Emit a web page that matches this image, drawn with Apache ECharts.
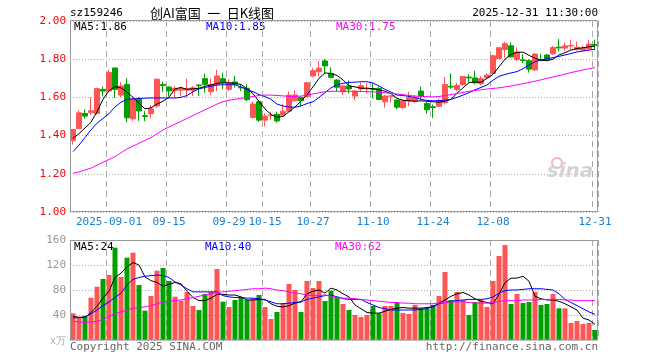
<!DOCTYPE html>
<html><head><meta charset="utf-8">
<script src="https://cdn.jsdelivr.net/npm/echarts@6/dist/echarts.min.js"></script>
<style>html,body{margin:0;padding:0;background:#fff}#c{width:660px;height:360px}</style>
</head><body><div id="c"></div>
<script>
// ---- data ----
const dates = ['08-22','08-25','08-26','08-27','08-28','08-29',
 '09-01','09-02','09-03','09-04','09-05','09-08','09-09','09-10','09-11','09-12',
 '09-15','09-16','09-17','09-18','09-19','09-22','09-23','09-24','09-25','09-26','09-29','09-30',
 '10-09','10-10','10-13','10-14','10-15','10-16','10-17','10-20','10-21','10-22','10-23','10-24',
 '10-27','10-28','10-29','10-30','10-31',
 '11-03','11-04','11-05','11-06','11-07','11-10','11-11','11-12','11-13','11-14',
 '11-17','11-18','11-19','11-20','11-21','11-24','11-25','11-26','11-27','11-28',
 '12-01','12-02','12-03','12-04','12-05','12-08','12-09','12-10','12-11','12-12',
 '12-15','12-16','12-17','12-18','12-19','12-22','12-23','12-24','12-25','12-26',
 '12-29','12-30','12-31'];
const tickLabels = {6:'2025-09-01',16:'09-15',26:'09-29',32:'10-15',40:'10-27',50:'11-10',60:'11-24',70:'12-08',87:'12-31'};
const openP  = [1.374,1.437,1.516,1.520,1.516,1.642,1.633,1.754,1.612,1.668,1.488,1.590,1.504,1.515,1.555,1.668,1.654,1.636,1.638,1.638,1.638,1.665,1.698,1.630,1.668,1.698,1.642,1.681,1.653,1.648,1.495,1.577,1.481,1.505,1.512,1.507,1.528,1.582,1.600,1.604,1.712,1.735,1.791,1.726,1.691,1.630,1.660,1.607,1.644,1.645,1.647,1.647,1.577,1.606,1.586,1.547,1.582,1.581,1.633,1.568,1.551,1.554,1.572,1.658,1.642,1.668,1.706,1.702,1.672,1.704,1.726,1.804,1.851,1.870,1.798,1.796,1.792,1.744,1.798,1.822,1.828,1.863,1.858,1.869,1.851,1.848,1.855,1.877];
const closeP = [1.432,1.519,1.502,1.530,1.646,1.633,1.730,1.642,1.660,1.493,1.592,1.529,1.500,1.540,1.695,1.662,1.634,1.647,1.647,1.646,1.650,1.661,1.668,1.668,1.712,1.677,1.677,1.668,1.650,1.588,1.565,1.481,1.502,1.508,1.477,1.528,1.612,1.612,1.582,1.677,1.740,1.753,1.765,1.705,1.653,1.660,1.644,1.633,1.661,1.648,1.642,1.589,1.607,1.608,1.549,1.582,1.598,1.598,1.607,1.535,1.547,1.581,1.668,1.654,1.663,1.709,1.702,1.677,1.698,1.716,1.818,1.860,1.881,1.812,1.837,1.793,1.748,1.827,1.795,1.796,1.861,1.859,1.870,1.872,1.862,1.857,1.879,1.873];
const lowP   = [1.353,1.435,1.488,1.508,1.511,1.605,1.628,1.598,1.600,1.470,1.476,1.477,1.475,1.490,1.545,1.628,1.605,1.598,1.605,1.598,1.607,1.607,1.625,1.611,1.633,1.642,1.633,1.651,1.633,1.581,1.489,1.472,1.449,1.481,1.467,1.502,1.525,1.577,1.554,1.600,1.709,1.709,1.723,1.700,1.630,1.612,1.621,1.586,1.630,1.621,1.595,1.586,1.547,1.572,1.537,1.540,1.554,1.572,1.588,1.514,1.493,1.551,1.563,1.646,1.633,1.660,1.681,1.668,1.663,1.695,1.721,1.800,1.809,1.809,1.791,1.780,1.730,1.739,1.790,1.793,1.823,1.842,1.844,1.849,1.844,1.844,1.844,1.853];
const highP  = [1.435,1.533,1.537,1.600,1.651,1.656,1.745,1.756,1.680,1.700,1.602,1.602,1.528,1.560,1.698,1.682,1.658,1.660,1.656,1.698,1.660,1.668,1.725,1.698,1.745,1.730,1.695,1.712,1.668,1.668,1.577,1.586,1.516,1.525,1.525,1.565,1.630,1.639,1.604,1.682,1.753,1.791,1.800,1.758,1.695,1.665,1.688,1.639,1.677,1.674,1.674,1.656,1.612,1.612,1.589,1.586,1.630,1.611,1.656,1.577,1.563,1.593,1.707,1.726,1.677,1.712,1.721,1.739,1.712,1.726,1.823,1.863,1.891,1.888,1.861,1.825,1.800,1.832,1.828,1.828,1.870,1.905,1.886,1.902,1.893,1.870,1.902,1.902];
const ma5  = [1.386,1.41,1.44,1.47,1.525,1.59,1.635,1.656,1.650,1.628,1.60,1.57,1.54,1.545,1.565,1.58,1.60,1.645,1.652,1.642,1.645,1.648,1.658,1.665,1.674,1.676,1.676,1.674,1.668,1.645,1.62,1.578,1.54,1.51,1.496,1.50,1.525,1.55,1.58,1.615,1.655,1.70,1.728,1.725,1.715,1.692,1.66,1.655,1.648,1.648,1.645,1.64,1.632,1.62,1.595,1.585,1.582,1.58,1.582,1.58,1.577,1.575,1.58,1.59,1.622,1.65,1.678,1.68,1.679,1.70,1.72,1.76,1.80,1.825,1.836,1.837,1.82,1.805,1.795,1.792,1.80,1.822,1.834,1.848,1.856,1.86,1.865,1.869];
const ma10 = [1.316,1.35,1.39,1.43,1.465,1.49,1.515,1.55,1.575,1.59,1.592,1.594,1.596,1.597,1.597,1.597,1.597,1.597,1.60,1.61,1.63,1.645,1.652,1.658,1.665,1.666,1.666,1.666,1.655,1.64,1.63,1.615,1.604,1.59,1.565,1.555,1.55,1.548,1.555,1.568,1.577,1.60,1.625,1.65,1.665,1.674,1.678,1.680,1.682,1.682,1.675,1.66,1.642,1.628,1.612,1.61,1.605,1.60,1.59,1.584,1.582,1.583,1.585,1.59,1.60,1.612,1.625,1.64,1.652,1.665,1.69,1.71,1.72,1.728,1.735,1.75,1.77,1.787,1.795,1.803,1.808,1.815,1.822,1.83,1.838,1.843,1.848,1.852];
const ma30 = [1.203,1.21,1.22,1.23,1.245,1.26,1.275,1.29,1.31,1.33,1.345,1.36,1.375,1.39,1.41,1.43,1.445,1.46,1.475,1.49,1.505,1.52,1.535,1.55,1.565,1.578,1.585,1.59,1.595,1.60,1.605,1.61,1.612,1.612,1.61,1.608,1.605,1.605,1.607,1.612,1.618,1.624,1.63,1.632,1.632,1.632,1.632,1.631,1.631,1.630,1.629,1.627,1.624,1.621,1.618,1.614,1.61,1.607,1.605,1.604,1.603,1.605,1.61,1.615,1.62,1.626,1.632,1.636,1.64,1.644,1.647,1.65,1.655,1.66,1.666,1.672,1.678,1.685,1.692,1.70,1.707,1.714,1.722,1.73,1.737,1.744,1.75,1.756];
const volume = [42.7,37.3,38.7,67.7,85.3,97.6,104,147.7,100.8,131.7,139.7,88,46.9,70.4,110.9,115.2,94.4,69.3,63,76.8,54.4,48,73.6,76.8,113.6,61.3,52.8,64,68.3,64,66.1,72,52.8,33.6,44.8,58.7,89.6,80,44.8,94.4,83.2,94.4,62.4,79,69.3,57.6,48,40,36.8,40,54.4,42.7,54.4,54.4,59.7,43.2,41.6,56,50.7,50.7,56,70.4,108.8,64,76.8,64,40,60.8,64,52.8,94.4,134.4,152,57.6,73.6,59.2,60.8,76.8,56,57.6,73.6,50.7,50.7,27.2,30.4,25.6,27.2,16];
const vma5  = [38,36,36,44,54,67,78,100,107,117,124,120,101,95,92,86,89,92,90,78,68,63,63,67,73,73,72,72,69,64,64,65,65,58,54,53,55,59,61,74,78,80,75,83,80,74,69,56,50,44,43,43,46,49,51,52,51,51,51,52,53,59,64,70,74,76,72,66,62,60,58,73,92,99,99,102,94,70,66,64,64,62,58,53,48,35,32,25];
const vma10 = [35,36,37,42,48,55,61,68,75,88,97,100,102,103,104,103,100,93,88,82,77,77,77,77,77,71,69,68,68,67,67,66,64,61,58,58,59,60,61,65,67,69,71,72,69,66,65,65,65,60,56,52,50,48,48,48,48,48,49,50,54,58,60,62,63,64,65,65,65,66,69,75,79,80,80,81,82,82,82,81,80,74,65,60,55,50,45,41];
const vma30 = [30,29,28,29,30,33,38,42,45,48,51,52,53,55,58,61,62,63,64,66,68,70,72,74,76,77,78,79,80,81,82,82,83,82,80,79,77,75,74,72,71,71,72,70,68,67,67,66,65,64,63,62,61,60,60,59,59,58,58,58,58,59,60,61,61,61,60,59,59,59,60,62,63,63,63,64,64,64,65,65,65,65,64,64,63,63,63,63];
const priceLegend = ['MA5:1.86','MA10:1.85','MA30:1.75'];
const volLegend = ['MA5:24','MA10:40','MA30:62'];

// ---- chart ----
const UP = '#ff5555', DOWN = '#00a000';
const MONO = '"DejaVu Sans Mono","Liberation Mono",monospace';
const chart = echarts.init(document.getElementById('c'), null, {renderer:'canvas'});
const candle = dates.map((d,i)=>[openP[i],closeP[i],lowP[i],highP[i]]);
const volData = volume.map((v,i)=>({value:v, itemStyle:{color: closeP[i]>=openP[i]?UP:DOWN}}));
const showTick = (i)=>tickLabels.hasOwnProperty(i);
const xBase = (gi, withLabel)=>({
  type:'category', gridIndex:gi, data:dates, boundaryGap:true,
  axisLine:{show:false}, axisTick:{show:false},
  axisLabel:{show:withLabel, interval:(i)=>showTick(i), formatter:(v,i)=>tickLabels[i]||'',
    color:'#1a80d0', fontFamily:MONO, fontSize:11, margin:5},
  splitLine:{show:true, interval:(i)=>showTick(i), lineStyle:{color:'#aaaaaa', type:[6,4], width:1}}
});
const lineS = (name, data, color, xi, yi)=>({type:'line', name, data, xAxisIndex:xi, yAxisIndex:yi,
  showSymbol:false, symbol:'none', silent:true, lineStyle:{color, width:1}, z:5});
const txt = (x,y,t,fill,opt)=>Object.assign({type:'text', x, y, silent:true,
  style:Object.assign({text:t, fill, font:'11px '+MONO, textVerticalAlign:'middle'}, opt||{})});

chart.setOption({
  animation:false,
  backgroundColor:'#fff',
  grid:[{left:70, top:21, width:528, height:191},{left:70, top:240, width:528, height:100}],
  xAxis:[xBase(0,true), xBase(1,false)],
  yAxis:[
    {type:'value', gridIndex:0, min:1, max:2, interval:0.2,
     axisLine:{show:false}, axisTick:{show:false},
     axisLabel:{color:'#ff0000', fontFamily:MONO, fontSize:11, margin:4, formatter:(v)=>v.toFixed(2)},
     splitLine:{show:true, lineStyle:{color:'#aaaaaa', type:[1,2]}}},
    {type:'value', gridIndex:1, min:0, max:160, interval:40,
     axisLine:{show:false}, axisTick:{show:false},
     axisLabel:{color:'#999999', fontFamily:MONO, fontSize:11, margin:4, formatter:(v)=>v===0?'':String(v)},
     splitLine:{show:true, lineStyle:{color:'#aaaaaa', type:[1,2]}}}
  ],
  series:[
    {type:'candlestick', data:candle, xAxisIndex:0, yAxisIndex:0, barWidth:5,
     itemStyle:{color:UP, color0:DOWN, borderColor:UP, borderColor0:DOWN, borderWidth:1}},
    lineS('MA5', ma5, '#000000', 0, 0),
    lineS('MA10', ma10, '#0000ff', 0, 0),
    lineS('MA30', ma30, '#ff00ff', 0, 0),
    {type:'bar', data:volData, xAxisIndex:1, yAxisIndex:1, barWidth:5, silent:true},
    lineS('VMA5', vma5, '#000000', 1, 1),
    lineS('VMA10', vma10, '#0000ff', 1, 1),
    lineS('VMA30', vma30, '#ff00ff', 1, 1)
  ],
  graphic:[
    {type:'rect', silent:true, z:100, shape:{x:70.5,y:20.5,width:527,height:191}, style:{fill:null, stroke:'#999999', lineWidth:1}},
    {type:'rect', silent:true, z:100, shape:{x:70.5,y:240.5,width:527,height:99.5}, style:{fill:null, stroke:'#999999', lineWidth:1}},
    txt(70,13,'sz159246','#000'),
    {type:'text', x:150, y:13, silent:true, style:{text:'创AI富国\u2002一\u2002日K线图', fill:'#000', font:'13px "Noto Sans CJK SC"', textVerticalAlign:'middle'}},
    txt(598,13,'2025-12-31 11:30:00','#000',{textAlign:'right'}),
    txt(74,27,priceLegend[0],'#000000'),
    txt(206,27,priceLegend[1],'#0000ff'),
    txt(336,27,priceLegend[2],'#ff00ff'),
    txt(74,247,volLegend[0],'#000000'),
    txt(205,247,volLegend[1],'#0000ff'),
    txt(335,247,volLegend[2],'#ff00ff'),
    txt(66,341,'x万','#aaaaaa',{textAlign:'right', font:'10px '+MONO}),
    txt(70,347,'Copyright 2025 SINA.COM','#666666'),
    txt(598,347,'http://finance.sina.com.cn','#666666',{textAlign:'right'}),
    {type:'circle', silent:true, z:1, shape:{cx:557,cy:163,r:5}, style:{fill:null, stroke:'#f0b8b8', lineWidth:2}},
    {type:'text', x:570, y:172, silent:true, z:1, style:{text:'sina', fill:'#d4d4d4', font:'italic bold 20px "DejaVu Sans"', textAlign:'center', textVerticalAlign:'middle'}}
  ]
});
</script></body></html>
